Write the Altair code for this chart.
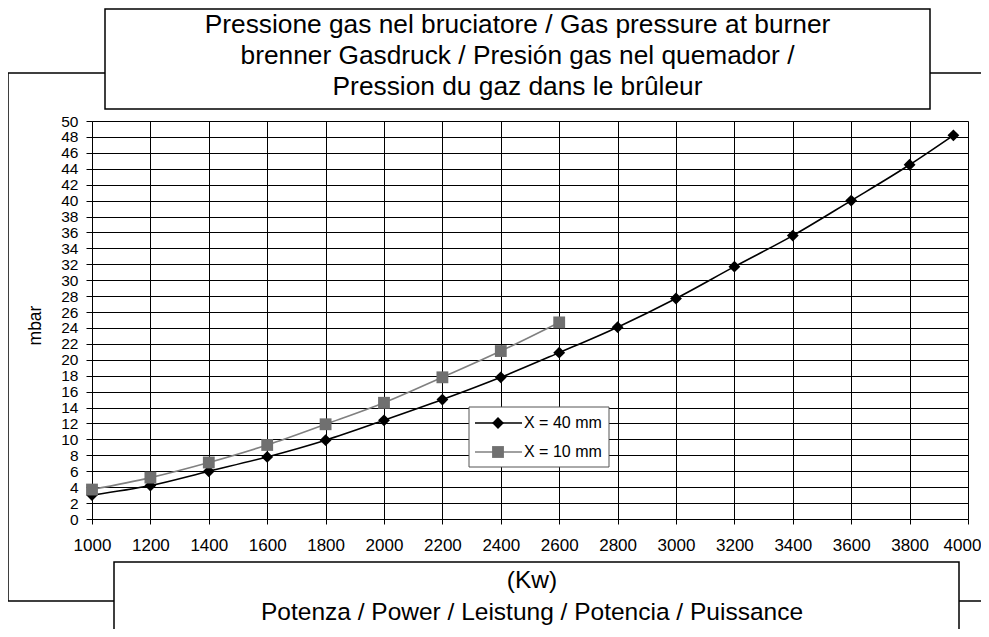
import altair as alt
import pandas as pd

# ---- data ----
SERIES = ["X = 40 mm", "X = 10 mm"]
LINE_COLORS = ["#000000", "#808080"]
MARK_COLORS = ["#000000", "#707070"]
SHAPES = ["diamond", "square"]

POWER_40 = [1000, 1200, 1400, 1600, 1800, 2000, 2200, 2400, 2600, 2800, 3000,
            3200, 3400, 3600, 3800, 3950]
P_40 = [3.0, 4.2, 6.0, 7.8, 9.9, 12.4, 15.0, 17.8, 20.9, 24.1, 27.7, 31.7,
        35.6, 40.0, 44.5, 48.2]
POWER_10 = [1000, 1200, 1400, 1600, 1800, 2000, 2200, 2400, 2600]
P_10 = [3.7, 5.2, 7.1, 9.3, 11.9, 14.6, 17.8, 21.1, 24.7]

X_TICKS = list(range(1000, 4001, 200))
Y_TICKS = list(range(0, 51, 2))

TITLE_LINES = ["Pressione gas nel bruciatore / Gas pressure at burner",
               "brenner Gasdruck / Presión gas nel quemador /",
               "Pression du gaz dans le brûleur"]
XLABEL_LINES = ["(Kw)", "Potenza / Power / Leistung / Potencia / Puissance"]
Y_TITLE = "mbar"

FONT = "Liberation Sans"
W, H = 876, 398

df = pd.concat([
    pd.DataFrame({"power": POWER_40, "p": P_40, "series": SERIES[0]}),
    pd.DataFrame({"power": POWER_10, "p": P_10, "series": SERIES[1]}),
])
one = pd.DataFrame({"k": [0]})

x_axis = alt.Axis(values=X_TICKS, format="d", title=None, grid=True, gridColor="#000",
                  gridOpacity=1, gridWidth=1, tickSize=5, tickColor="#000",
                  domainColor="#000", labelPadding=13, labelFlush=False,
                  labelOverlap=False, labelFont=FONT, labelFontSize=17,
                  labelColor="#000",
                  labelOffset={"condition": {"test": "datum.value == 4000", "value": -6},
                               "value": 0})
y_axis = alt.Axis(values=Y_TICKS, format="d", title=Y_TITLE, grid=True, gridColor="#000",
                  gridOpacity=1, gridWidth=1, tickSize=6, tickColor="#000",
                  domainColor="#000", labelPadding=8, labelFlush=False,
                  labelOverlap=False, labelFont=FONT, labelFontSize=15.5,
                  labelColor="#000", titleFont=FONT, titleFontSize=17.5,
                  titleFontWeight="normal", titleColor="#000",
                  titleX=-57, titleY=204, titleAngle=270,
                  titleAlign="center", titleBaseline="middle")
x_scale = alt.Scale(domain=[1000, 4000], nice=False, zero=False)
y_scale = alt.Scale(domain=[0, 50], nice=False)

x_enc = alt.X("power:Q", scale=x_scale, axis=x_axis)
y_enc = alt.Y("p:Q", scale=y_scale, axis=y_axis)
shape_enc = alt.Shape("series:N", scale=alt.Scale(domain=SERIES, range=SHAPES), legend=None)

lines = alt.Chart(df).mark_line(interpolate="monotone", strokeWidth=1.6).encode(
    x=x_enc, y=y_enc,
    stroke=alt.Stroke("series:N", scale=alt.Scale(domain=SERIES, range=LINE_COLORS), legend=None),
    detail="series:N")
points = alt.Chart(df).mark_point(filled=True, size=140, opacity=1).encode(
    x=x_enc, y=y_enc,
    fill=alt.Fill("series:N", scale=alt.Scale(domain=SERIES, range=MARK_COLORS), legend=None),
    shape=shape_enc)

layers = []
# outer frame
layers.append(alt.Chart(one).mark_rect(fill=None, stroke="#000", strokeWidth=1.5).encode(
    x=alt.value(-84), x2=alt.value(1000), y=alt.value(-48), y2=alt.value(480)))
# title box
layers.append(alt.Chart(one).mark_rect(fill="white", stroke="#000", strokeWidth=1.5).encode(
    x=alt.value(13), x2=alt.value(838), y=alt.value(-112), y2=alt.value(-12)))
for i, t in enumerate(TITLE_LINES):
    layers.append(alt.Chart(one).mark_text(font=FONT, fontSize=26.3, color="#000",
                                           align="center", baseline="alphabetic").encode(
        x=alt.value(425.5), y=alt.value(-88 + 31 * i), text=alt.value(t)))
# bottom box
layers.append(alt.Chart(one).mark_rect(fill="white", stroke="#000", strokeWidth=1.5).encode(
    x=alt.value(22), x2=alt.value(867), y=alt.value(441), y2=alt.value(540)))
for i, t in enumerate(XLABEL_LINES):
    layers.append(alt.Chart(one).mark_text(font=FONT, fontSize=24.5, color="#000",
                                           align="center", baseline="alphabetic").encode(
        x=alt.value(440), y=alt.value(467 + 32 * i), text=alt.value(t)))

# legend
leg = [alt.Chart(one).mark_rect(fill="white", stroke="#555", strokeWidth=1).encode(
    x=alt.value(377), x2=alt.value(517), y=alt.value(286), y2=alt.value(346))]
for i, s in enumerate(SERIES):
    yy = 302 + 29 * i
    leg.append(alt.Chart(one).mark_rule(color=LINE_COLORS[i], strokeWidth=1.6).encode(
        x=alt.value(383), x2=alt.value(430), y=alt.value(yy)))
    leg.append(alt.Chart(one).mark_point(filled=True, size=140, opacity=1, shape=SHAPES[i],
                                         color=MARK_COLORS[i]).encode(
        x=alt.value(406), y=alt.value(yy)))
    leg.append(alt.Chart(one).mark_text(font=FONT, fontSize=16, color="#000", align="left",
                                        baseline="middle").encode(
        x=alt.value(432), y=alt.value(yy), text=alt.value(s)))

chart = alt.layer(lines, points, *layers, *leg).properties(
    width=W, height=H,
    autosize=alt.AutoSizeParams(type="none"),
    padding={"left": 84, "top": 113, "right": 13, "bottom": 110},
).configure_view(stroke="#000", strokeWidth=2).configure(background="white")

chart.save("out.html", embed_options={"renderer": "svg", "actions": False})
